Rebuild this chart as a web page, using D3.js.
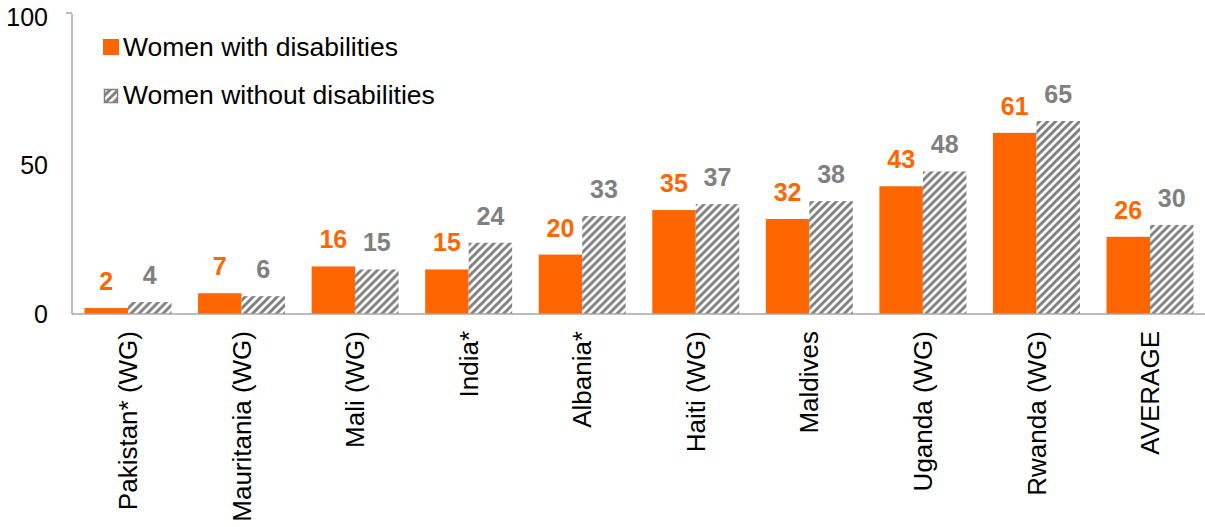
<!DOCTYPE html>
<html>
<head>
<meta charset="utf-8">
<script src="https://cdn.jsdelivr.net/npm/d3@7/dist/d3.min.js"></script>
<style>
  html, body { margin: 0; padding: 0; background: #fff; }
  svg { display: block; font-family: "Liberation Sans", Arial, sans-serif; }
</style>
</head>
<body>
<svg id="chart" width="1205" height="527"></svg>
<script>
const categories = ["Pakistan* (WG)", "Mauritania (WG)", "Mali (WG)", "India*", "Albania*",
  "Haiti (WG)", "Maldives", "Uganda (WG)", "Rwanda (WG)", "AVERAGE"];
const withDisabilities = [2, 7, 16, 15, 20, 35, 32, 43, 61, 26];
const withoutDisabilities = [4, 6, 15, 24, 33, 37, 38, 48, 65, 30];
const seriesNames = ["Women with disabilities", "Women without disabilities"];
const yTicks = [0, 50, 100];

const ORANGE = "#ff6600";
const GREY = "#808080";

const svg = d3.select("#chart");
const defs = svg.append("defs");
const pat = defs.append("pattern")
  .attr("id", "hatch").attr("patternUnits", "userSpaceOnUse")
  .attr("width", 8).attr("height", 8);
pat.append("rect").attr("width", 8).attr("height", 8).attr("fill", "#fff");
pat.append("path")
  .attr("d", "M-2,2 L2,-2 M0,8 L8,0 M6,10 L10,6")
  .attr("stroke", GREY).attr("stroke-width", 3);

const x0 = d3.scaleBand().domain(categories).range([71.2, 1206.8])
  .paddingInner(0.234).paddingOuter(0.117);
const x1 = d3.scaleBand().domain([0, 1]).range([0, x0.bandwidth()]);
const y = d3.scaleLinear().domain([0, 100]).range([314, 17]);

// axes lines
svg.append("line").attr("x1", 72).attr("x2", 72).attr("y1", y(100) - 3).attr("y2", y(0))
  .attr("stroke", "#a6a6a6").attr("stroke-width", 1.5);
svg.append("line").attr("x1", 66).attr("x2", 72).attr("y1", y(100) - 4).attr("y2", y(100) - 4)
  .attr("stroke", "#a6a6a6").attr("stroke-width", 1.5);

// y tick labels
svg.append("g").selectAll("text").data(yTicks).join("text")
  .attr("x", 48).attr("y", d => y(d)).attr("dy", "0.35em")
  .attr("text-anchor", "end").attr("font-size", 25).attr("fill", "#000")
  .text(d => d);

const groups = svg.append("g").selectAll("g").data(categories).join("g")
  .attr("transform", d => `translate(${x0(d)},0)`);

groups.append("rect")
  .attr("x", x1(0)).attr("width", x1.bandwidth())
  .attr("y", (d, i) => y(withDisabilities[i]))
  .attr("height", (d, i) => y(0) - y(withDisabilities[i]))
  .attr("fill", ORANGE);

groups.append("rect")
  .attr("x", x1(1)).attr("width", x1.bandwidth())
  .attr("y", (d, i) => y(withoutDisabilities[i]))
  .attr("height", (d, i) => y(0) - y(withoutDisabilities[i]))
  .attr("fill", "url(#hatch)");

groups.append("text")
  .attr("x", x1(0) + x1.bandwidth() / 2)
  .attr("y", (d, i) => y(withDisabilities[i]) - 18)
  .attr("text-anchor", "middle").attr("font-size", 25).attr("font-weight", "bold")
  .attr("fill", ORANGE).text((d, i) => withDisabilities[i]);

groups.append("text")
  .attr("x", x1(1) + x1.bandwidth() / 2)
  .attr("y", (d, i) => y(withoutDisabilities[i]) - 18)
  .attr("text-anchor", "middle").attr("font-size", 25).attr("font-weight", "bold")
  .attr("fill", GREY).text((d, i) => withoutDisabilities[i]);

// x axis line
svg.append("line").attr("x1", 72).attr("x2", 1205).attr("y1", y(0)).attr("y2", y(0))
  .attr("stroke", "#a6a6a6").attr("stroke-width", 1.5);

// category labels
svg.append("g").selectAll("text").data(categories).join("text")
  .attr("transform", d => `translate(${x0(d) + x0.bandwidth() / 2},331) rotate(-90)`)
  .attr("dy", "0.35em").attr("text-anchor", "end")
  .attr("font-size", 26).attr("fill", "#000").text(d => d);

// legend
const legend = svg.append("g");
legend.append("rect").attr("x", 103).attr("y", 39).attr("width", 16).attr("height", 16).attr("fill", ORANGE);
legend.append("text").attr("x", 123).attr("y", 47).attr("dy", "0.35em")
  .attr("font-size", 26.5).attr("fill", "#000").text(seriesNames[0]);
legend.append("rect").attr("x", 104.5).attr("y", 89.5).attr("width", 13).attr("height", 13)
  .attr("fill", "url(#hatch)").attr("stroke", GREY).attr("stroke-width", 1.5);
legend.append("text").attr("x", 123).attr("y", 95).attr("dy", "0.35em")
  .attr("font-size", 26.5).attr("fill", "#000").text(seriesNames[1]);
</script>
</body>
</html>
